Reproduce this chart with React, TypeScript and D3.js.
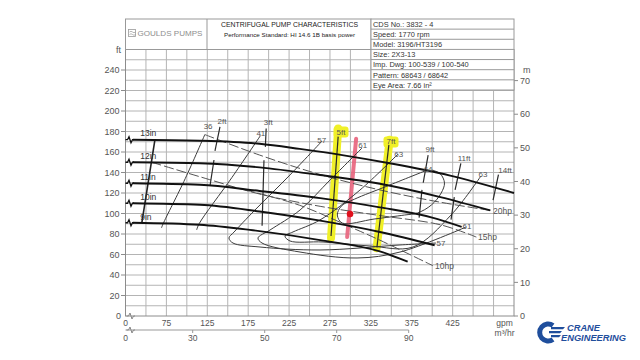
import * as d3 from 'd3';

type P = [number, number];

// axis ticks
const gpmTicks = [75, 125, 175, 225, 275, 325, 375, 425];
const ftTicks = [20, 40, 60, 80, 100, 120, 140, 160, 180, 200, 220, 240];
const mTicks = [0, 10, 20, 30, 40, 50, 60, 70];
const m3Ticks = [30, 50, 70, 90];

const infoRows = [
  'CDS No.: 3832 - 4',
  'Speed: 1770 rpm',
  'Model: 3196/HT3196',
  'Size: 2X3-13',
  'Imp. Dwg: 100-539 / 100-540',
  'Pattern: 68643 / 68642',
  'Eye Area: 7.66 in\u00B2',
];

// impeller head curves, [gpm, ft]
const impLabels = ['13in', '12in', '11in', '10in', '9in'];
const impLabelAt: P[] = [[43, 178.5], [43, 156.5], [43, 135.3], [43, 115.8], [43, 96.9]];
const imp13: P[] = [[34, 172], [116, 171], [189, 168], [238, 163], [290, 157], [348, 149], [422, 137], [500, 120]];
const imp12: P[] = [[34, 150], [116, 149], [189, 145], [263, 137.5], [336, 129], [410, 116], [471, 103]];
const imp11: P[] = [[34, 129.5], [116, 128], [189, 122], [263, 115], [336, 106], [400, 96], [436, 87]];
const imp10: P[] = [[34, 110], [116, 108.5], [189, 102], [263, 93], [336, 82], [403, 69]];
const imp9: P[] = [[34, 91], [116, 89], [177, 84], [263, 74], [336, 63], [370, 53]];
const impellers = [imp13, imp12, imp11, imp10, imp9];

const minFlow: P[] = [[61, 172], [45, 91]];

// efficiency contours
const effLabels = ['36', '41', '57', '61', '63', '64', '63', '61', '57'];
const effLabelAt: P[] = [[126, 184.4], [190.5, 178.5], [265, 171.7], [315, 165.9], [359, 158], [395, 143.4], [462, 137.6], [442.5, 87.8], [410.7, 71.2]];
const eff36: P[] = [[122, 177], [98, 134], [71, 90], [69, 86]];
const eff41: P[] = [[190, 176], [155, 135], [115, 90], [112, 84]];
const eff57: P[] = [[265.3, 170.7], [226.1, 137.6], [183.3, 103.4], [157.7, 81.9], [151.5, 76.1], [156.4, 71.2], [189.5, 67.3], [262.8, 64.4], [360.6, 69.3], [404.6, 71.2]];
const eff61: P[] = [[314.2, 163.9], [275.1, 132.7], [238.4, 103.4], [201.7, 83.9], [187, 76.1], [191.9, 71.2], [238.4, 62.4], [308.1, 56.6], [360.6, 62.4], [441.3, 86.8]];
const eff63: P[] = [[358.2, 158], [311.7, 122.9], [262.8, 93.7], [229.8, 82], [220, 78], [226.1, 73.2], [266.5, 72.2], [324, 68.3], [376.5, 67.3], [423, 98.5], [459.6, 136.6]];
const eff64: P[] = [[394, 142.4], [345, 126.8], [305, 114], [289, 107.3], [284, 98.5], [290, 90.7], [329, 94.6], [366, 98.5], [382, 100.5], [399, 108.3], [411, 120], [415, 129.8], [410, 138.6], [400, 142.4]];
const effCurves = [eff36, eff41, eff57, eff61, eff63, eff64];

// power lines
const hpLabels = ['20hp', '15hp', '10hp'];
const hpLabelAt: P[] = [[474.4, 102.4], [456, 76.6], [403.5, 48.8]];
const hp20: P[] = [[122, 177], [189, 157], [263, 138], [336, 123], [410, 111], [471, 103]];
const hp15: P[] = [[57, 150], [128, 133], [189, 119], [263, 107], [336, 98], [410, 89], [454, 77]];
const hp10: P[] = [[171, 123], [238, 108], [308, 84], [336, 74], [401, 49]];
const hpCurves = [hp20, hp15, hp10];

// NPSHr marks
const npshLabels = ['2ft', '3ft', '5ft', '7ft', '9ft', '11ft', '14ft'];
const npshLabelAt: P[] = [[143, 189.3], [199.5, 188.3], [288.5, 179.5], [349.6, 169.8], [397.3, 162], [439, 154.1], [489, 142.4]];
const npshSegs: P[][] = [
  [[140.5, 184.4], [134.4, 161]], [[133.2, 152.2], [128.3, 126.8]],
  [[197, 183], [196, 165]], [[194.3, 152], [192, 88]],
  [[285, 175], [276.3, 78]],
  [[347, 167], [332.4, 67]],
  [[395, 157], [389, 130]], [[387.5, 123], [384, 96]],
  [[435, 149], [428, 123]], [[427, 116], [423, 94]],
  [[481, 138], [474.4, 113]],
];
const highlightSegs: P[][] = [[[285, 183], [276.3, 76]], [[348, 172], [332, 66]]];
const highlightLabels = [2, 3];

// operating point
const dutyLine: P[] = [[307, 173], [296, 77]];
const dutyPoint: P = [299.5, 99.5];

export default function App() {
  const x = d3.scaleLinear().domain([25, 500]).range([125.5, 514]);
  const y = d3.scaleLinear().domain([0, 260]).range([316, 49.5]);
  const yM = (m: number) => y(m * 3.28084);
  const xm = d3.scaleLinear().domain([30, 90]).range([192.7, 408.7]);

  const smooth = d3.line<P>().x((d) => x(d[0])).y((d) => y(d[1])).curve(d3.curveMonotoneX);
  const free = d3.line<P>().x((d) => x(d[0])).y((d) => y(d[1])).curve(d3.curveCatmullRom.alpha(0.5));
  const straight = d3.line<P>().x((d) => x(d[0])).y((d) => y(d[1]));

  const x0 = x(25);
  const x1 = x(500);
  const yTop = y(260);
  const yBot = y(0);
  const font = '"Liberation Sans", Arial, sans-serif';
  const wiggle = (px: number, py: number) => `M${px},${py} h2 l1.5,-3 l2,6 l1.5,-3 h1.5`;

  return (
    <svg width={640} height={360} style={{position: 'absolute', left: 0, top: 0}} fontFamily={font}>
      <rect width={640} height={360} fill="#fff" />

      {/* grid */}
      <g stroke="#b4b4b4" strokeWidth={1}>
        {d3.range(50, 500, 25).map((g) => (
          <line key={'v' + g} x1={x(g)} x2={x(g)} y1={yTop} y2={yBot} />
        ))}
        {d3.range(10, 260, 10).map((f) => (
          <line key={'h' + f} x1={x0} x2={x1} y1={y(f)} y2={y(f)} />
        ))}
      </g>
      <rect x={x0} y={yTop} width={x1 - x0} height={yBot - yTop} fill="none" stroke="#8c8c8c" />

      {/* left axis */}
      <g fontSize={9} fill="#555" textAnchor="end">
        {ftTicks.map((t) => (
          <g key={'ft' + t}>
            <line x1={121} x2={x0} y1={y(t)} y2={y(t)} stroke="#8c8c8c" />
            <text x={119.5} y={y(t) + 3.2}>{t}</text>
          </g>
        ))}
        <text x={121} y={yTop + 3}>ft</text>
        <text x={121} y={yBot + 3}>0</text>
      </g>

      {/* right axis */}
      <g fontSize={9} fill="#555">
        {mTicks.map((t) => (
          <g key={'m' + t}>
            <line x1={x1} x2={x1 + 4} y1={yM(t)} y2={yM(t)} stroke="#8c8c8c" />
            <text x={x1 + 6} y={yM(t) + 3.2}>{t}</text>
          </g>
        ))}
        <text x={x1 + 9} y={yM(70) - 8}>m</text>
      </g>

      {/* bottom axes */}
      <g fontSize={8.5} fill="#555" textAnchor="middle">
        <path d={wiggle(x0 + 1, yBot)} fill="none" stroke="#888" />
        <text x={x0} y={326}>0</text>
        {gpmTicks.map((t) => (
          <text key={'g' + t} x={x(t)} y={326}>{t}</text>
        ))}
        <text x={x(475) + 11} y={326}>gpm</text>
        <line x1={x0} x2={xm(90)} y1={330} y2={330} stroke="#999" />
        <path d={wiggle(x0 + 1, 330)} fill="none" stroke="#888" />
        <text x={x0} y={341}>0</text>
        {m3Ticks.map((t) => (
          <g key={'mh' + t}>
            <line x1={xm(t)} x2={xm(t)} y1={330} y2={333} stroke="#999" />
            <text x={xm(t)} y={341}>{t}</text>
          </g>
        ))}
        <text x={x(475) + 11} y={336}>m{'\u00B3'}/hr</text>
      </g>

      {/* header */}
      <g stroke="#999" fill="#fff">
        <rect x={x0} y={19} width={371 - x0} height={yTop - 19} />
        <line x1={207} x2={207} y1={19} y2={yTop} />
        <rect x={371} y={19} width={x1 - 371} height={71} />
        {infoRows.map((_, i) => (i > 0 ? <line key={'r' + i} x1={371} x2={x1} y1={19 + i * 10.14} y2={19 + i * 10.14} /> : null))}
      </g>
      <g fill="#333" fontSize={7.4}>
        {infoRows.map((r, i) => (
          <text key={'t' + i} x={373} y={19 + i * 10.14 + 7.8}>{r}</text>
        ))}
      </g>
      <g fill="#222" textAnchor="middle">
        <text x={289.5} y={26.6} fontSize={6.6} textLength={137} lengthAdjust="spacingAndGlyphs">CENTRIFUGAL PUMP CHARACTERISTICS</text>
        <text x={289.5} y={36.8} fontSize={6} textLength={131} lengthAdjust="spacingAndGlyphs">Performance Standard: HI 14.6 1B basis power</text>
      </g>
      <g>
        <rect x={128.5} y={29.5} width={7} height={7} fill="none" stroke="#999" strokeWidth={0.8} />
        <path d="M129.5,32 q1.5,-1.5 3,0 t3,0 M129.5,34.5 q1.5,-1.5 3,0 t3,0" fill="none" stroke="#999" strokeWidth={0.7} />
        <text x={137.5} y={36.3} fontSize={8} fill="#8e8e8e" textLength={65} lengthAdjust="spacingAndGlyphs">GOULDS PUMPS</text>
      </g>

      {/* highlights */}
      <g>
        {highlightSegs.map((s, i) => (
          <path key={'hl' + i} d={straight(s) || ''} stroke="#f0f028" strokeWidth={8} strokeLinecap="round" fill="none" />
        ))}
        {highlightLabels.map((k) => (
          <rect key={'hr' + k} x={x(npshLabelAt[k][0]) - 7.5} y={y(npshLabelAt[k][1]) - 5.5} width={15} height={11} rx={3} fill="#f0f028" />
        ))}
        <path d={straight(dutyLine) || ''} stroke="#e8637c" strokeWidth={4} strokeLinecap="round" fill="none" opacity={0.9} />
      </g>

      {/* power lines */}
      <g fill="none" stroke="#555" strokeWidth={1} strokeDasharray="10 3">
        {hpCurves.map((c, i) => (
          <path key={'hp' + i} d={free(c) || ''} />
        ))}
      </g>

      {/* efficiency */}
      <g fill="none" stroke="#3c3c3c" strokeWidth={1}>
        {effCurves.map((c, i) => (
          <path key={'e' + i} d={free(c) || ''} />
        ))}
        {npshSegs.map((s, i) => (
          <path key={'n' + i} d={straight(s) || ''} strokeWidth={1.2} stroke="#2a2a2a" />
        ))}
        <path d={straight(minFlow) || ''} stroke="#222" strokeWidth={1.6} />
      </g>

      {/* impellers */}
      <g fill="none" stroke="#111" strokeWidth={1.9}>
        {impellers.map((c, i) => (
          <g key={'imp' + i}>
            <path d={smooth(c) || ''} />
            <path d={wiggle(x0, y(c[0][1]))} strokeWidth={1.3} />
          </g>
        ))}
      </g>
      <g fontSize={8.5} fill="#333">
        {impLabels.map((l, i) => (
          <text key={'il' + i} x={x(impLabelAt[i][0])} y={y(impLabelAt[i][1])} dominantBaseline="central">{l}</text>
        ))}
      </g>

      <circle cx={x(dutyPoint[0])} cy={y(dutyPoint[1])} r={3.3} fill="#e0101c" />

      {/* labels */}
      <g fontSize={8} fill="#555" textAnchor="middle">
        {effLabels.map((l, i) => (
          <text key={'el' + i} x={x(effLabelAt[i][0])} y={y(effLabelAt[i][1])} dominantBaseline="central">{l}</text>
        ))}
        {npshLabels.map((l, i) => (
          <text key={'nl' + i} x={x(npshLabelAt[i][0])} y={y(npshLabelAt[i][1])} dominantBaseline="central">{l}</text>
        ))}
      </g>
      <g fontSize={8.5} fill="#555">
        {hpLabels.map((l, i) => (
          <text key={'hl' + i} x={x(hpLabelAt[i][0])} y={y(hpLabelAt[i][1])} dominantBaseline="central">{l}</text>
        ))}
      </g>

      {/* crane logo */}
      <g fill="#1f4e9c">
        <path d="M553,325.5 A8.5,8.5 0 1,0 553,339.5" fill="none" stroke="#1f4e9c" strokeWidth={5} />
        <path d="M551,327 h14 l-2,2.2 h-12 z M549,331 h13 l-2,2.2 h-11 z M551,335 h10 l-2,2.2 h-8 z" />
        <text x={567} y={330.5} fontSize={9.5} fontWeight="bold" fontStyle="italic" textLength={33} lengthAdjust="spacingAndGlyphs">CRANE</text>
        <text x={561} y={340.5} fontSize={9.5} fontWeight="bold" fontStyle="italic" textLength={65} lengthAdjust="spacingAndGlyphs">ENGINEERING</text>
      </g>
    </svg>
  );
}
